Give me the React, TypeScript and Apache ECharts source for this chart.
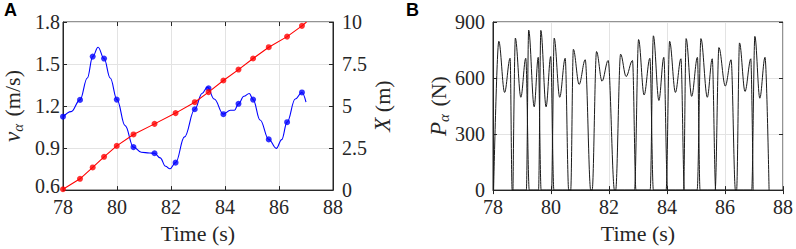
import React, { useEffect, useRef } from 'react';
import * as echarts from 'echarts';

// ---------- Panel A data ----------
const timeTicks = [78, 80, 82, 84, 86, 88];
const markTimes = [78.0, 78.63, 79.1, 79.52, 79.99, 80.61, 81.39, 82.17, 82.88, 83.39, 83.94, 84.5, 85.04, 85.62, 86.3, 86.85];
const speedMarks = [1.124, 1.244, 1.553, 1.539, 1.246, 0.907, 0.863, 0.796, 1.177, 1.327, 1.142, 1.216, 1.246, 0.962, 1.085, 1.297];
const positionMarks = [0.05, 0.67, 1.35, 1.98, 2.63, 3.31, 3.94, 4.58, 5.23, 5.83, 6.52, 7.17, 7.83, 8.5, 9.13, 9.77];
const positionEndTime = [87.02];
const positionEndValue = [10];

const speedCurveTimes = [78.0, 78.3, 78.63, 78.9, 79.1, 79.3, 79.52, 79.75, 80.0, 80.3, 80.61, 80.9, 81.2, 81.39, 81.6, 81.8, 81.96, 82.17, 82.5, 82.88, 83.15, 83.35, 83.6, 83.94, 84.2, 84.35, 84.5, 84.7, 84.9, 85.04, 85.3, 85.62, 85.9, 86.1, 86.3, 86.6, 86.85, 87.0];
const speedCurveValues = [1.12, 1.16, 1.244, 1.4, 1.553, 1.62, 1.539, 1.4, 1.246, 1.06, 0.907, 0.87, 0.865, 0.863, 0.83, 0.77, 0.752, 0.796, 0.98, 1.177, 1.29, 1.335, 1.25, 1.142, 1.17, 1.17, 1.216, 1.27, 1.29, 1.246, 1.1, 0.962, 0.898, 0.96, 1.085, 1.25, 1.297, 1.228];

// ---------- Panel B data (one entry per stance) ----------
const stanceStart = [78.02, 78.69, 79.15, 79.57, 80.02, 80.68, 81.42, 82.23, 82.88, 83.42, 83.97, 84.57, 85.04, 85.66, 86.4, 86.92];
const peak1Time = [78.2, 78.77, 79.23, 79.65, 80.11, 80.77, 81.57, 82.4, 83.02, 83.53, 84.09, 84.66, 85.17, 85.79, 86.5, 87.03];
const peak1Force = [797, 814, 857, 855, 814, 754, 742, 728, 806, 826, 797, 811, 811, 763, 788, 823];
const valleyTime = [78.4, 78.96, 79.42, 79.83, 80.3, 80.97, 81.76, 82.59, 83.21, 83.72, 84.29, 84.85, 85.39, 86.01, 86.69, 87.2];
const valleyForce = [523, 497, 446, 446, 497, 566, 583, 608, 509, 480, 523, 502, 497, 557, 528, 492];
const peak2Time = [78.59, 79.13, 79.56, 79.99, 80.49, 81.18, 81.97, 82.81, 83.41, 83.89, 84.48, 85.05, 85.56, 86.21, 86.89, 87.38];
const peak2Force = [706, 706, 711, 715, 706, 698, 694, 694, 706, 711, 703, 711, 703, 698, 703, 711];
const stanceEnd = [78.66, 79.25, 79.66, 80.1, 80.61, 81.37, 82.19, 82.93, 83.53, 84.02, 84.6, 85.14, 85.68, 86.36, 86.97, 87.52];

const SERIF = 'Liberation Serif';
const INK = '#262626';
const GRID = '#e3e3e3';

function legData(parity: number) {
  const out: number[][] = [];
  for (let i = parity; i < stanceStart.length; i += 2) {
    out.push([stanceStart[i], 0]);
    out.push([peak1Time[i], peak1Force[i]]);
    out.push([valleyTime[i], valleyForce[i]]);
    out.push([peak2Time[i], peak2Force[i]]);
    out.push([stanceEnd[i], 0]);
  }
  return out;
}

function zip(a: number[], b: number[]) {
  return a.map((v, i) => [v, b[i]]);
}

export default function App() {
  const ref = useRef<HTMLDivElement>(null);
  useEffect(() => {
    document.body.style.margin = '0';
    const chart = echarts.init(ref.current!, null, { renderer: 'svg' });
    const labelStyle = { fontFamily: SERIF, fontSize: 20, color: INK, lineHeight: 14 };
    const nameStyle = { fontFamily: SERIF, fontSize: 22, color: INK };
    const xCommon = (gridIndex: number) => ({
      type: 'value',
      gridIndex,
      min: timeTicks[0],
      max: timeTicks[timeTicks.length - 1],
      interval: 2,
      axisLine: { show: true, lineStyle: { color: INK, width: 1 } },
      axisTick: { show: true, inside: true, length: 4, lineStyle: { color: INK } },
      axisLabel: { ...labelStyle, margin: 10 },
      splitLine: { show: true, lineStyle: { color: GRID, width: 1 } },
      name: 'Time (s)',
      nameLocation: 'middle',
      nameGap: 30,
      nameTextStyle: nameStyle,
    });
    const xMirror = (gridIndex: number) => ({
      type: 'value',
      gridIndex,
      position: 'top',
      min: 78,
      max: 88,
      interval: 2,
      axisLine: { show: false },
      axisTick: { show: true, inside: true, length: 4, lineStyle: { color: INK } },
      axisLabel: { show: false },
      splitLine: { show: false },
    });
    const subRich = {
      i: { fontFamily: SERIF, fontSize: 23, fontStyle: 'italic', color: INK },
      s: { fontFamily: SERIF, fontSize: 15, fontStyle: 'italic', color: INK, padding: [10, 2, 0, 0] },
    };
    const option: any = {
      animation: false,
      backgroundColor: '#ffffff',
      textStyle: { fontFamily: SERIF },
      grid: [
        { left: 60, top: 22, width: 273, height: 173, show: true, borderColor: INK, borderWidth: 1, backgroundColor: 'transparent' },
        { left: 493, top: 22, width: 294, height: 174, show: true, borderColor: INK, borderWidth: 1, backgroundColor: 'transparent' },
      ],
      xAxis: [xCommon(0), xCommon(1), xMirror(0), xMirror(1)],
      yAxis: [
        {
          type: 'value', gridIndex: 0, position: 'left', min: 0.6, max: 1.8, interval: 0.3,
          axisLine: { show: true, lineStyle: { color: INK } },
          axisTick: { show: true, inside: true, length: 4, lineStyle: { color: INK } },
          axisLabel: {
            ...labelStyle, margin: 3,
            formatter: (v: number) => (v <= 0.6 ? '{lo|' + v.toFixed(1) + '}' : v.toFixed(1)),
            rich: { lo: { fontFamily: SERIF, fontSize: 20, color: INK, lineHeight: 14, padding: [0, 0, 8, 0] } },
          },
          splitLine: { show: true, lineStyle: { color: GRID } },
          name: '{i|v}{s|α} (m/s)', nameLocation: 'middle', nameRotate: 90, nameGap: 38,
          nameTextStyle: { ...nameStyle, rich: subRich },
        },
        {
          type: 'value', gridIndex: 0, position: 'right', min: 0, max: 10, interval: 2.5,
          axisLine: { show: true, lineStyle: { color: INK } },
          axisTick: { show: true, inside: true, length: 4, lineStyle: { color: INK } },
          axisLabel: { ...labelStyle, margin: 9, formatter: (v: number) => String(v) },
          splitLine: { show: false },
          name: '{i|X} (m)', nameLocation: 'middle', nameRotate: 90, nameGap: 37,
          nameTextStyle: { ...nameStyle, rich: { i: subRich.i } },
        },
        {
          type: 'value', gridIndex: 1, position: 'left', min: 0, max: 900, interval: 300,
          axisLine: { show: true, lineStyle: { color: INK } },
          axisTick: { show: true, inside: true, length: 4, lineStyle: { color: INK } },
          axisLabel: { ...labelStyle, margin: 8 },
          splitLine: { show: true, lineStyle: { color: GRID } },
          name: '{i|P}{s|α} (N)', nameLocation: 'middle', nameRotate: 90, nameGap: 41,
          nameTextStyle: { ...nameStyle, rich: subRich },
        },
        {
          type: 'value', gridIndex: 1, position: 'right', min: 0, max: 900, interval: 300,
          axisLine: { show: false },
          axisTick: { show: true, inside: true, length: 4, lineStyle: { color: INK } },
          axisLabel: { show: false },
          splitLine: { show: false },
        },
      ],
      graphic: [
        { type: 'text', left: 4, top: 1, style: { text: 'A', font: 'bold 18px Liberation Sans', fill: '#000' } },
        { type: 'text', left: 406, top: 1, style: { text: 'B', font: 'bold 18px Liberation Sans', fill: '#000' } },
      ],
      series: [
        {
          type: 'line', xAxisIndex: 0, yAxisIndex: 0,
          data: zip(speedCurveTimes, speedCurveValues),
          smooth: 0.4, smoothMonotone: 'x', showSymbol: false,
          lineStyle: { color: '#0000ff', width: 1.1 }, z: 2,
        },
        {
          type: 'scatter', xAxisIndex: 0, yAxisIndex: 0,
          data: zip(markTimes, speedMarks), symbolSize: 6,
          itemStyle: { color: '#0000ff' }, z: 3,
        },
        {
          type: 'line', xAxisIndex: 0, yAxisIndex: 1,
          data: zip(markTimes.concat(positionEndTime), positionMarks.concat(positionEndValue)),
          showSymbol: false, lineStyle: { color: '#ff0000', width: 1.1 }, z: 4,
        },
        {
          type: 'scatter', xAxisIndex: 0, yAxisIndex: 1,
          data: zip(markTimes, positionMarks), symbolSize: 6,
          itemStyle: { color: '#ff0000' }, z: 5,
        },
        {
          type: 'line', xAxisIndex: 1, yAxisIndex: 2, data: legData(0),
          smooth: 0.35, smoothMonotone: 'x', showSymbol: false,
          lineStyle: { color: '#1a1a1a', width: 1 },
        },
        {
          type: 'line', xAxisIndex: 1, yAxisIndex: 2, data: legData(1),
          smooth: 0.35, smoothMonotone: 'x', showSymbol: false,
          lineStyle: { color: '#1a1a1a', width: 1 },
        },
      ],
    };
    chart.setOption(option);
    return () => chart.dispose();
  }, []);
  return <div ref={ref} style={{ width: 796, height: 249 }} />;
}
